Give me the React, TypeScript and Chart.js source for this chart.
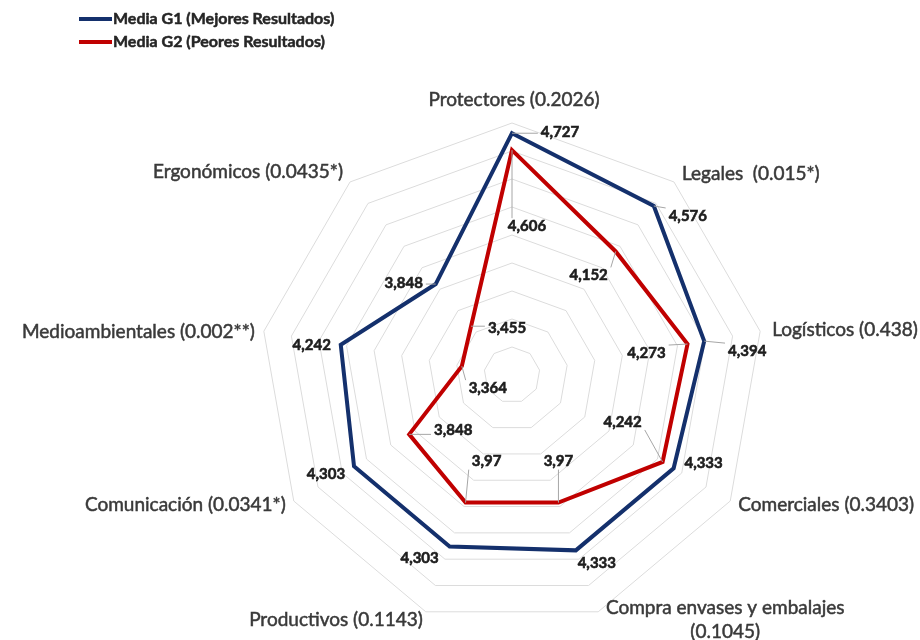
import { useEffect, useRef } from "react";
import { Chart, registerables } from "chart.js";

Chart.register(...registerables);

// ---- Data ----
const categories: (string | string[])[] = [
  "Protectores (0.2026)",
  "Legales  (0.015*)",
  "Logísticos (0.438)",
  "Comerciales (0.3403)",
  ["Compra envases y embalajes", "(0.1045)"],
  "Productivos (0.1143)",
  "Comunicación (0.0341*)",
  "Medioambientales (0.002**)",
  "Ergonómicos (0.0435*)",
];
const g1Label = "Media G1 (Mejores Resultados)";
const g2Label = "Media G2 (Peores Resultados)";
const g1Values = [4.727, 4.576, 4.394, 4.333, 4.333, 4.303, 4.303, 4.242, 3.848];
const g2Values = [4.606, 4.152, 4.273, 4.242, 3.97, 3.97, 3.848, 3.364, 3.455];
const scaleMin = 3;
const scaleMax = 4.8;
const scaleStep = 0.2;

// ---- Styling ----
const G1_COLOR = "#14306c";
const G2_COLOR = "#c00000";
const CAT_FONT = "19px Lato, 'Open Sans', sans-serif";
const VAL_FONT = "bold 15px Lato, 'Open Sans', sans-serif";
const LEG_FONT = "bold 16px Lato, 'Open Sans', sans-serif";

// value label offsets relative to their point (dx, dy to text centre) and leader-line flag
const g1LabelOffsets: [number, number, boolean][] = [
  [48, -1, true],
  [34, 10, true],
  [43, 10, true],
  [30, -5, false],
  [21, 13, false],
  [-30, 12, false],
  [-28, 8, false],
  [-29, 0, false],
  [-32, -1, true],
];
const g2LabelOffsets: [number, number, boolean][] = [
  [15, 76, true],
  [-27, 24, true],
  [-41, 9, true],
  [-40, -40, true],
  [0, -41, true],
  [21, -41, true],
  [44, -4, true],
  [26, 22, true],
  [36, 2, true],
];
// category label placement relative to outer vertex: dx, dy, align
const catPlacement: [number, number, CanvasTextAlign][] = [
  [2, -23, "center"],
  [8, -8, "left"],
  [12, -1, "left"],
  [8, 4, "left"],
  [127, -4, "center"],
  [-3, 8, "right"],
  [-8, 4, "right"],
  [-9, 1, "right"],
  [-7, -10, "right"],
];

const fmt = (v: number) => String(v).replace(".", ",");

const labelsPlugin = {
  id: "customLabels",
  afterDraw(chart: any) {
    const ctx: CanvasRenderingContext2D = chart.ctx;
    const scale = chart.scales.r;
    ctx.save();

    // category labels
    ctx.font = CAT_FONT;
    ctx.fillStyle = "#3a3a3a";
    ctx.strokeStyle = "#3a3a3a";
    ctx.lineWidth = 0.5;
    ctx.textBaseline = "middle";
    categories.forEach((lab, i) => {
      const p = scale.getPointPositionForValue(i, scale.max);
      const [dx, dy, align] = catPlacement[i];
      ctx.textAlign = align;
      const lines = Array.isArray(lab) ? lab : [lab];
      lines.forEach((ln, k) => {
        ctx.fillText(ln, p.x + dx, p.y + dy + k * 24);
        ctx.strokeText(ln, p.x + dx, p.y + dy + k * 24);
      });
    });

    // value labels
    ctx.font = VAL_FONT;
    ctx.textAlign = "center";
    const sets: [number[], [number, number, boolean][]][] = [
      [g1Values, g1LabelOffsets],
      [g2Values, g2LabelOffsets],
    ];
    sets.forEach(([vals, offs], d) => {
      const meta = chart.getDatasetMeta(d);
      vals.forEach((v, i) => {
        const pt = meta.data[i];
        const [dx, dy, leader] = offs[i];
        const tx = pt.x + dx;
        const ty = pt.y + dy;
        const text = fmt(v);
        const w = ctx.measureText(text).width;
        if (leader) {
          const hw = w / 2 + 3;
          const hh = 8;
          const cx = Math.max(tx - hw, Math.min(pt.x, tx + hw));
          const cy = Math.max(ty - hh, Math.min(pt.y, ty + hh));
          ctx.beginPath();
          ctx.strokeStyle = "#a6a6a6";
          ctx.lineWidth = 1;
          ctx.moveTo(pt.x, pt.y);
          ctx.lineTo(cx, cy);
          ctx.stroke();
        }
        ctx.fillStyle = "#1e1e1e";
        ctx.strokeStyle = "#1e1e1e";
        ctx.lineWidth = 0.6;
        ctx.fillText(text, tx, ty);
        ctx.strokeText(text, tx, ty);
      });
    });

    // legend
    const legend: [string, string][] = [
      [g1Label, G1_COLOR],
      [g2Label, G2_COLOR],
    ];
    ctx.font = LEG_FONT;
    ctx.textAlign = "left";
    legend.forEach(([t, c], k) => {
      const y = 19 + k * 23;
      ctx.beginPath();
      ctx.strokeStyle = c;
      ctx.lineWidth = 4;
      ctx.moveTo(79, y);
      ctx.lineTo(112, y);
      ctx.stroke();
      ctx.fillStyle = "#262626";
      ctx.strokeStyle = "#262626";
      ctx.lineWidth = 0.5;
      ctx.fillText(t, 113, y);
      ctx.strokeText(t, 113, y);
    });

    ctx.restore();
  },
};

export default function App() {
  const ref = useRef<HTMLCanvasElement | null>(null);
  useEffect(() => {
    if (!ref.current) return;
    const chart = new Chart(ref.current, {
      type: "radar",
      data: {
        labels: categories,
        datasets: [
          {
            label: g1Label,
            data: g1Values,
            borderColor: G1_COLOR,
            backgroundColor: "transparent",
            borderWidth: 4,
            pointRadius: 0,
            fill: false,
          },
          {
            label: g2Label,
            data: g2Values,
            borderColor: G2_COLOR,
            backgroundColor: "transparent",
            borderWidth: 4,
            pointRadius: 0,
            fill: false,
          },
        ],
      },
      options: {
        responsive: false,
        animation: false,
        layout: { padding: { left: 260, right: 156, top: 123, bottom: 13 } },
        elements: { line: { tension: 0, borderJoinStyle: "miter" } },
        plugins: { legend: { display: false }, tooltip: { enabled: false } },
        scales: {
          r: {
            min: scaleMin,
            max: scaleMax,
            ticks: { display: false, stepSize: scaleStep },
            grid: { color: "#dcdcdc", lineWidth: 1 },
            angleLines: { display: false },
            pointLabels: { display: false },
          },
        },
      },
      plugins: [labelsPlugin],
    } as any);
    return () => chart.destroy();
  }, []);
  return (
    <div style={{ position: "fixed", left: 0, top: 0, width: 920, height: 640, background: "#fff" }}>
      <canvas ref={ref} width={920} height={640} />
    </div>
  );
}
